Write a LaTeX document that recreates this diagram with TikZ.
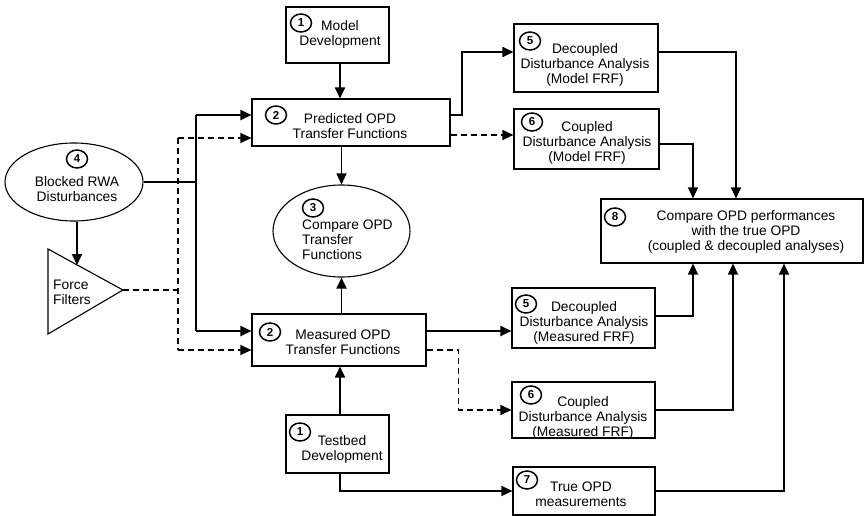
\documentclass[tikz,border=0pt]{standalone}
\usepackage{fontspec}
\setmainfont{Liberation Sans}
\usetikzlibrary{arrows.meta,shapes.geometric}
\begin{document}
\begin{tikzpicture}[x=1pt,y=-1pt,
  box/.style={draw,line width=1.1pt,rectangle,inner sep=0pt},
  oval/.style={draw,line width=1.1pt,ellipse,inner sep=0pt},
  num/.style={draw,ellipse,line width=1.5pt,minimum width=21pt,minimum height=18pt,inner sep=0pt,
    font=\fontsize{11.5}{11.5}\selectfont\bfseries},
  txt/.style={align=center,inner sep=0pt,font=\fontsize{13.8}{15}\selectfont},
  seg/.style={line width=1.2pt},
  conn/.style={line width=1.2pt,-{Triangle[length=11pt,width=10pt]}},
  connb/.style={line width=1.9pt,-{Triangle[length=11pt,width=10pt]}},
  dsh/.style={line width=1.2pt,dash pattern=on 6pt off 4pt},
  dconn/.style={dsh,-{Triangle[length=11pt,width=10pt]}}
]
\useasboundingbox (0,0) rectangle (865,516);

% ---- boxes and ovals
\node[box,minimum width=103pt,minimum height=56pt] (model) at (337.5,35) {};
\node[box,minimum width=198pt,minimum height=47pt] (pred) at (351,122.5) {};
\node[box,minimum width=174pt,minimum height=52pt] (meas) at (339,340) {};
\node[box,minimum width=103pt,minimum height=58pt] (test) at (337.5,444) {};
\node[box,minimum width=144pt,minimum height=68pt] (dma) at (586,58) {};
\node[box,minimum width=145pt,minimum height=60pt] (cma) at (586.5,139) {};
\node[box,minimum width=262pt,minimum height=64pt] (cmp8) at (732,231) {};
\node[box,minimum width=143pt,minimum height=60pt] (dme) at (583.5,318) {};
\node[box,minimum width=143pt,minimum height=56pt] (cme) at (583.5,410) {};
\node[box,minimum width=142pt,minimum height=48pt] (tru) at (584,491) {};
\node[oval,minimum width=138pt,minimum height=78pt] (blk) at (74,182) {};
\node[oval,minimum width=137pt,minimum height=92pt] (cmp3) at (341.5,231) {};

% ---- force filter triangle
\coordinate (fftl) at (48,249);
\coordinate (ffbl) at (48,334);
\coordinate (ffap) at (123,290);
\coordinate (ffin) at (77,265);
\draw[line width=1.1pt,line join=miter] (fftl) -- (ffap) -- (ffbl) -- cycle;

% ---- texts
\node[txt] (tmodel) at (340,34) {Model\\Development};
\node[txt] (tpred) at (350,126) {Predicted OPD\\Transfer Functions};
\node[txt] (tmeas) at (343,342) {Measured OPD\\Transfer Functions};
\node[txt] (ttest) at (342,449.5) {Testbed\\Development};
\node[txt] (tblk) at (77,189.5) {Blocked RWA\\Disturbances};
\node[txt,align=left,anchor=west] (tcmp3) at (302,239.5) {Compare OPD\\Transfer\\Functions};
\node[txt,align=left,anchor=west] (tff) at (53,292.5) {Force\\Filters};
\node[txt] (tdma) at (585,65) {Decoupled\\Disturbance Analysis\\(Model FRF)};
\node[txt] (tcma) at (587,143) {Coupled\\Disturbance Analysis\\(Model FRF)};
\node[txt] (tcmp8) at (746,232) {Compare OPD performances\\with the true OPD\\(coupled \& decoupled analyses)};
\node[txt] (tdme) at (584,322.5) {Decoupled\\Disturbance Analysis\\(Measured FRF)};
\node[txt] (tcme) at (583,417.5) {Coupled\\Disturbance Analysis\\(Measured FRF)};
\node[txt] (ttru) at (581,494.5) {True OPD\\measurements};

% ---- step numbers
\node[num] (n1a) at (301,23) {1};
\node[num] (n2a) at (276,115) {2};
\node[num] (n3) at (313,208) {3};
\node[num] (n4) at (77,159) {4};
\node[num] (n5a) at (530,41) {5};
\node[num] (n6a) at (532,122) {6};
\node[num] (n8) at (615,217) {8};
\node[num] (n2b) at (270,332) {2};
\node[num] (n1b) at (300,432) {1};
\node[num] (n5b) at (526,304) {5};
\node[num] (n6b) at (531,395) {6};
\node[num] (n7) at (527,480) {7};

% ---- vertical flow in the middle column
\draw[connb] ([xshift=2.5pt]model.south) -- ([xshift=2.5pt]model.south |- pred.north);
\draw[conn] (pred.south -| cmp3.north) -- (cmp3.north);
\draw[connb] (meas.north -| cmp3.south) -- (cmp3.south);
\draw[connb] ([xshift=2.5pt]test.north) -- ([xshift=2.5pt]test.north |- meas.south);

% ---- disturbance inputs
\coordinate (sv1) at (196,115);
\coordinate (sv2) at (196,331);
\coordinate (dv1) at (178,138);
\coordinate (dv2) at (178,350);
\draw[seg] (blk.east) -- (blk.east -| sv1);
\draw[seg] (sv1) -- (sv2);
\draw[connb] (sv1) -- (sv1 -| pred.west);
\draw[connb] (sv2) -- (sv2 -| meas.west);
\draw[dsh] (dv1) -- (dv2);
\draw[dconn] (dv1) -- (dv1 -| pred.west);
\draw[dconn] (dv2) -- (dv2 -| meas.west);
\draw[dsh] (ffap) -- (ffap -| dv1);
\draw[connb] (ffin |- blk.south) -- (ffin);

% ---- analyses
\draw[connb] ([yshift=7.5pt]pred.east) -- ++(11,0) |- ([yshift=6pt]dma.west);
\draw[dconn] ([yshift=-12.5pt]pred.east) -- ([yshift=-12.5pt]pred.east -| cma.west);
\draw[connb] ([yshift=9pt]meas.east) -- ([yshift=9pt]meas.east -| dme.west);
\draw[dconn] ([yshift=-10pt]meas.east) -- ++(32,0) |- (cme.west);
\draw[conn] ([xshift=2.5pt]test.south) |- (tru.west);

% ---- into the final comparison
\draw[conn] ([yshift=6pt]dma.east) -| ([xshift=4pt]cmp8.north);
\draw[conn] ([yshift=-5pt]cma.east) -| ([xshift=-39pt]cmp8.north);
\draw[conn] ([yshift=2pt]dme.east) -| ([xshift=-39pt]cmp8.south);
\draw[conn] (cme.east) -| ([xshift=1pt]cmp8.south);
\draw[conn] (tru.east) -| ([xshift=52pt]cmp8.south);
\end{tikzpicture}
\end{document}
